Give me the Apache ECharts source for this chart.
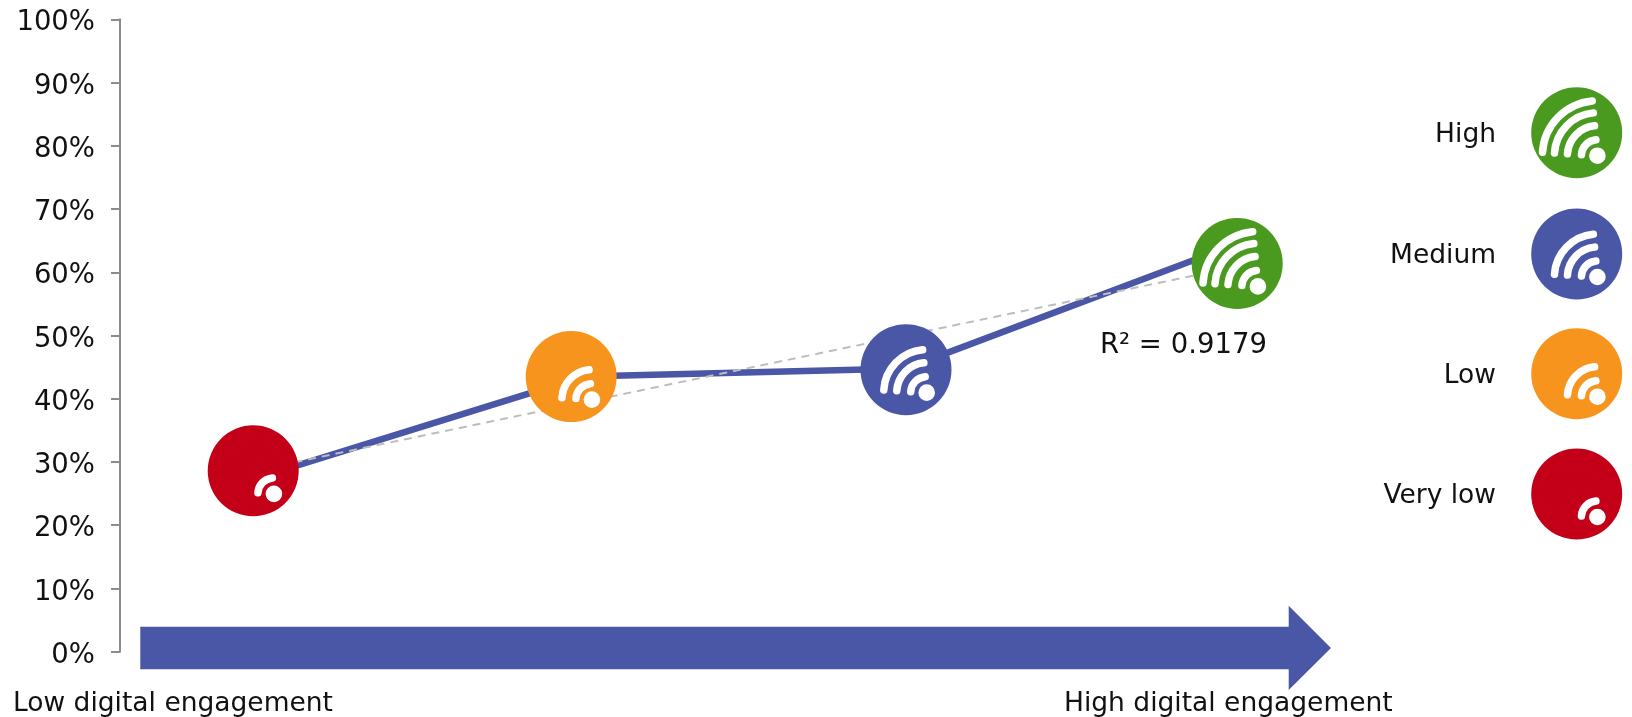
<!DOCTYPE html>
<html>
<head>
<meta charset="utf-8">
<style>html,body{margin:0;padding:0;background:#fff}#chart{width:1632px;height:717px}</style>
<script src="https://cdn.jsdelivr.net/npm/echarts@6/dist/echarts.min.js"></script>
</head>
<body>
<div id="chart"></div>
<script>
// Engagement levels, from lowest to highest
const levels = ['Very low', 'Low', 'Medium', 'High'];
const levelColors = ['#c40018', '#f7941e', '#4a56a6', '#4a9a1f'];
const signalArcs = [1, 2, 3, 4];

// Connecting line: position along the engagement scale and share at each level
const lineEngagement = [11.1, 38.6, 65.5, 93.1];
const lineShare = [27.3, 43.5, 44.8, 64.5];

// Badge placement on the same scales
const badgeEngagement = [11.1, 37.6, 65.5, 93.1];
const badgeShare = [28.6, 43.5, 44.6, 61.4];

// Linear trend end points
const trendEngagement = [11.1, 93.1];
const trendShare = [28.6, 60.9];
const rSquaredLabel = 'R\u00b2 = 0.9179';

const axisLabelLow = 'Low digital engagement';
const axisLabelHigh = 'High digital engagement';

const FONT = '"DejaVu Sans", Verdana, sans-serif';
const FONT_SIZE = 26.5;
const TICK_FONT_SIZE = 27.5;
const ICON_R = 45.5;
const BLUE = '#4a56a6';

// Round badge with a signal symbol: a dot in the lower right and n arcs around it
function badgeChildren(cx, cy, color, arcCount) {
  const dx = cx + 20.7, dy = cy + 23;
  const radii = [16, 30, 43, 55];
  const kids = [{
    type: 'circle',
    shape: { cx: cx, cy: cy, r: ICON_R },
    style: { fill: color }
  }];
  for (let i = 0; i < arcCount; i++) {
    kids.push({
      type: 'arc',
      shape: { cx: dx, cy: dy, r: radii[i], startAngle: Math.PI * 1.02, endAngle: Math.PI * 1.47, clockwise: true },
      style: { stroke: '#fff', lineWidth: 7.5, fill: null, lineCap: 'round' }
    });
  }
  kids.push({
    type: 'circle',
    shape: { cx: dx, cy: dy, r: 8.3 },
    style: { fill: '#fff' }
  });
  return kids;
}

const legendRows = [
  { i: 3, y: 132.7 }, { i: 2, y: 254 }, { i: 1, y: 373.7 }, { i: 0, y: 494 }
];
const legendGraphics = [];
legendRows.forEach(function (row) {
  legendGraphics.push({
    type: 'group',
    children: badgeChildren(1576.7, row.y, levelColors[row.i], signalArcs[row.i])
  });
  legendGraphics.push({
    type: 'text',
    x: 1496, y: row.y + 2,
    style: { text: levels[row.i], font: FONT_SIZE + 'px ' + FONT, fill: '#111', textAlign: 'right', textVerticalAlign: 'middle' }
  });
});

const chart = echarts.init(document.getElementById('chart'));
chart.setOption({
  animation: false,
  backgroundColor: '#fff',
  grid: { left: 120, width: 1200, top: 19.3, height: 632.4 },
  xAxis: { type: 'value', min: 0, max: 100, show: false },
  yAxis: {
    type: 'value', min: 0, max: 100, interval: 10,
    splitLine: { show: false },
    axisLine: { show: true, lineStyle: { color: '#8c8c8c', width: 2 } },
    axisTick: { show: true, inside: false, length: 9, lineStyle: { color: '#8c8c8c', width: 2 } },
    axisLabel: { formatter: '{value}%', margin: 25, color: '#111', fontFamily: FONT, fontSize: TICK_FONT_SIZE, verticalAlign: 'top', padding: [-10, 0, 0, 0] }
  },
  graphic: legendGraphics.concat([
    // Direction arrow along the bottom of the plot
    {
      type: 'polygon',
      shape: { points: [[140.3, 626.7], [1288.7, 626.7], [1288.7, 605.7], [1331, 647.9], [1288.7, 690], [1288.7, 669.3], [140.3, 669.3]] },
      style: { fill: BLUE }
    },
    {
      type: 'text', x: 13, y: 704,
      style: { text: axisLabelLow, font: FONT_SIZE + 'px ' + FONT, fill: '#111', textAlign: 'left', textVerticalAlign: 'middle' }
    },
    {
      type: 'text', x: 1064, y: 704,
      style: { text: axisLabelHigh, font: FONT_SIZE + 'px ' + FONT, fill: '#111', textAlign: 'left', textVerticalAlign: 'middle' }
    },
    {
      type: 'text', x: 1100, y: 346,
      style: { text: rSquaredLabel, font: '27.5px ' + FONT, fill: '#111', textAlign: 'left', textVerticalAlign: 'middle' }
    }
  ]),
  series: [
    {
      type: 'line', symbol: 'none', z: 2,
      data: lineEngagement.map(function (x, i) { return [x, lineShare[i]]; }),
      lineStyle: { color: BLUE, width: 6.5 }
    },
    {
      type: 'line', symbol: 'none', z: 3,
      data: trendEngagement.map(function (x, i) { return [x, trendShare[i]]; }),
      lineStyle: { color: '#bdbdbd', width: 2, type: [8, 6] }
    },
    {
      type: 'custom', z: 4, clip: false,
      data: badgeEngagement.map(function (x, i) { return [x, badgeShare[i], i]; }),
      renderItem: function (params, api) {
        const p = api.coord([api.value(0), api.value(1)]);
        const i = api.value(2);
        return { type: 'group', children: badgeChildren(p[0], p[1], levelColors[i], signalArcs[i]) };
      }
    }
  ]
});
</script>
</body>
</html>
